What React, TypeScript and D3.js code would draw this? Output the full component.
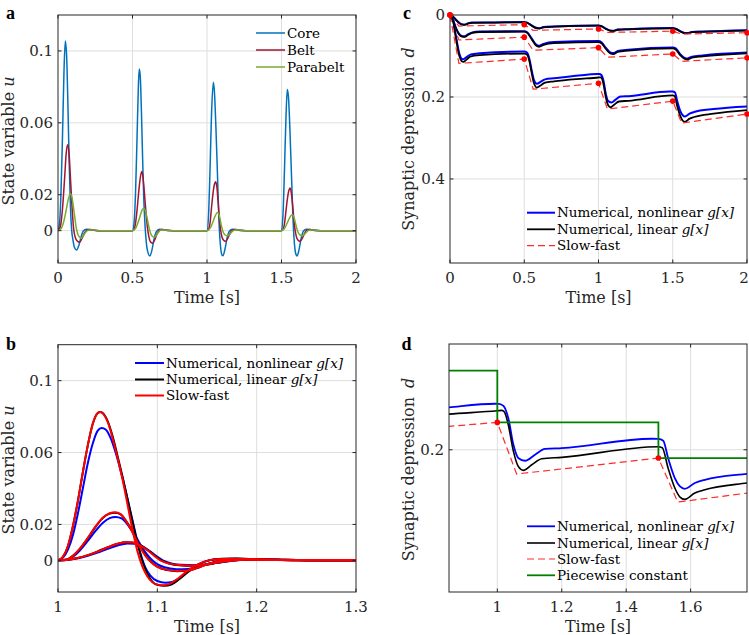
import React from 'react';
import * as d3 from 'd3';

type P = [number, number];

// ---------- Panel a: State variable u, 0..2 s ----------
const coreA: P[] = [
  [0,0],[0.01,0.004],[0.02,0.021],[0.03,0.052],[0.04,0.088],[0.049,0.1055],[0.058,0.097],[0.066,0.072],[0.075,0.038],[0.084,0.012],[0.092,0],[0.1,-0.005],[0.11,-0.0092],[0.125,-0.0108],[0.14,-0.0082],[0.155,-0.0035],[0.17,-0.0002],[0.19,0.0008],[0.22,0.0006],[0.26,0],
  [0.5,0],[0.51,0.004],[0.52,0.02],[0.53,0.05],[0.54,0.082],[0.5456,0.09],[0.552,0.086],[0.56,0.066],[0.568,0.04],[0.576,0.017],[0.584,0.003],[0.59,-0.004],[0.6,-0.011],[0.617,-0.0141],[0.63,-0.011],[0.645,-0.0045],[0.66,-0.0005],[0.68,0.0008],[0.71,0.0005],[0.75,0],
  [1.0,0],[1.01,0.008],[1.02,0.033],[1.03,0.064],[1.0425,0.0826],[1.05,0.077],[1.06,0.057],[1.07,0.032],[1.08,0.006],[1.09,-0.008],[1.1,-0.0134],[1.108,-0.0139],[1.12,-0.0105],[1.135,-0.004],[1.15,-0.0003],[1.17,0.0008],[1.2,0.0005],[1.24,0],
  [1.5,0],[1.51,0.009],[1.52,0.034],[1.53,0.063],[1.539,0.0785],[1.547,0.074],[1.557,0.055],[1.567,0.031],[1.577,0.007],[1.587,-0.0075],[1.597,-0.0132],[1.605,-0.0141],[1.617,-0.0108],[1.632,-0.0042],[1.647,-0.0003],[1.667,0.0008],[1.7,0.0005],[1.74,0],[2,0]
];
const beltA: P[] = [
  [0,0],[0.015,0.002],[0.03,0.012],[0.045,0.03],[0.055,0.043],[0.065,0.0478],[0.075,0.042],[0.085,0.027],[0.095,0.012],[0.105,0.001],[0.115,-0.0035],[0.13,-0.0058],[0.145,-0.0065],[0.16,-0.0045],[0.18,-0.001],[0.2,0.0005],[0.23,0.0004],[0.27,0],
  [0.5,0],[0.51,0.0006],[0.52,0.004],[0.53,0.011],[0.54,0.02],[0.55,0.028],[0.5616,0.0329],[0.57,0.03],[0.58,0.021],[0.59,0.0105],[0.6,0.002],[0.61,-0.0035],[0.62,-0.0062],[0.635,-0.007],[0.65,-0.005],[0.665,-0.0018],[0.68,0.0002],[0.7,0.0006],[0.73,0.0003],[0.77,0],
  [1.0,0],[1.01,0.0006],[1.02,0.004],[1.03,0.0125],[1.04,0.0205],[1.05,0.0258],[1.058,0.0272],[1.066,0.0245],[1.075,0.0155],[1.085,0.005],[1.095,-0.0015],[1.11,-0.0052],[1.125,-0.0059],[1.14,-0.0042],[1.155,-0.0015],[1.17,0.0002],[1.19,0.0006],[1.22,0.0003],[1.26,0],
  [1.5,0],[1.51,0.0006],[1.52,0.0038],[1.53,0.011],[1.54,0.018],[1.55,0.0225],[1.557,0.0237],[1.565,0.0215],[1.575,0.0138],[1.585,0.0045],[1.595,-0.0015],[1.61,-0.0052],[1.625,-0.0059],[1.64,-0.0042],[1.655,-0.0015],[1.67,0.0002],[1.69,0.0006],[1.72,0.0003],[1.76,0],[2,0]
];
const parabeltA: P[] = [
  [0,0],[0.02,0.001],[0.04,0.0055],[0.055,0.0115],[0.07,0.0178],[0.083,0.0205],[0.095,0.018],[0.11,0.009],[0.125,0.0005],[0.14,-0.0032],[0.155,-0.0042],[0.17,-0.0028],[0.19,-0.0005],[0.21,0.0004],[0.24,0.0004],[0.28,0],
  [0.5,0],[0.52,0.0012],[0.54,0.0052],[0.555,0.0092],[0.567,0.0118],[0.577,0.0125],[0.588,0.0108],[0.6,0.0062],[0.612,0.0013],[0.625,-0.0022],[0.644,-0.0037],[0.66,-0.0026],[0.675,-0.0008],[0.69,0.0003],[0.72,0.0004],[0.76,0],
  [1.0,0],[1.02,0.0013],[1.04,0.0049],[1.055,0.0082],[1.07,0.0101],[1.082,0.0086],[1.095,0.0035],[1.107,-0.0005],[1.12,-0.0023],[1.138,-0.0029],[1.155,-0.0018],[1.17,-0.0004],[1.19,0.0004],[1.22,0.0003],[1.26,0],
  [1.5,0],[1.52,0.0012],[1.54,0.0045],[1.555,0.0073],[1.572,0.0088],[1.584,0.0075],[1.597,0.003],[1.609,-0.0005],[1.622,-0.0022],[1.64,-0.0028],[1.657,-0.0018],[1.672,-0.0004],[1.69,0.0004],[1.72,0.0003],[1.76,0],[2,0]
];

// ---------- Panel b: zoom on third pulse, 1..1.3 s ----------
const bBigNonlin: P[] = [[1,0],[1.005,0.0015],[1.01,0.006],[1.015,0.014],[1.02,0.026],[1.025,0.04],[1.03,0.054],[1.035,0.065],[1.04,0.0722],[1.044,0.0737],[1.048,0.0728],[1.053,0.068],[1.058,0.06],[1.063,0.05],[1.068,0.039],[1.073,0.027],[1.078,0.015],[1.083,0.004],[1.088,-0.004],[1.093,-0.0085],[1.1,-0.0115],[1.108,-0.0124],[1.115,-0.012],[1.122,-0.0098],[1.132,-0.0055],[1.142,-0.002],[1.152,0],[1.165,0.0007],[1.18,0.0009],[1.2,0.0005],[1.23,0.0002],[1.27,0],[1.3,0]];
const bBigLin: P[] = [[1,0],[1.005,0.002],[1.01,0.008],[1.015,0.019],[1.02,0.033],[1.025,0.049],[1.03,0.064],[1.035,0.076],[1.04,0.082],[1.0425,0.0826],[1.045,0.082],[1.05,0.0775],[1.055,0.069],[1.06,0.058],[1.065,0.0465],[1.07,0.034],[1.075,0.0215],[1.08,0.0095],[1.085,-0.0005],[1.09,-0.0075],[1.095,-0.0118],[1.1,-0.0136],[1.107,-0.0141],[1.114,-0.0134],[1.122,-0.0105],[1.132,-0.006],[1.142,-0.0022],[1.152,0],[1.165,0.0009],[1.18,0.001],[1.2,0.0006],[1.23,0.0002],[1.27,0],[1.3,0]];
const bBigSF: P[] = [[1,0],[1.005,0.002],[1.01,0.008],[1.015,0.019],[1.02,0.033],[1.025,0.049],[1.03,0.064],[1.035,0.076],[1.04,0.082],[1.0425,0.0826],[1.045,0.0818],[1.05,0.077],[1.055,0.068],[1.06,0.057],[1.065,0.045],[1.07,0.031],[1.075,0.017],[1.08,0.005],[1.085,-0.0035],[1.09,-0.009],[1.095,-0.0122],[1.1,-0.0135],[1.106,-0.0138],[1.112,-0.0132],[1.12,-0.0105],[1.13,-0.006],[1.14,-0.0025],[1.15,-0.0003],[1.16,0.0006],[1.175,0.0009],[1.19,0.0007],[1.21,0.0003],[1.24,0.0001],[1.27,0],[1.3,0]];
const bMidNonlin: P[] = [[1,0],[1.008,0.0002],[1.015,0.002],[1.022,0.0055],[1.03,0.0108],[1.038,0.0165],[1.045,0.0208],[1.052,0.0235],[1.058,0.0242],[1.064,0.0233],[1.071,0.0192],[1.078,0.0135],[1.084,0.0078],[1.09,0.003],[1.096,-0.0005],[1.103,-0.003],[1.113,-0.0045],[1.125,-0.005],[1.137,-0.0043],[1.148,-0.0025],[1.16,-0.0008],[1.175,0.0004],[1.195,0.0006],[1.22,0.0003],[1.26,0],[1.3,0]];
const bMidLin: P[] = [[1,0],[1.008,0.0003],[1.015,0.0025],[1.022,0.0064],[1.03,0.0123],[1.038,0.0188],[1.045,0.0235],[1.052,0.026],[1.0575,0.0265],[1.063,0.0256],[1.07,0.0207],[1.076,0.0149],[1.082,0.0084],[1.088,0.003],[1.094,-0.0009],[1.1,-0.0035],[1.11,-0.0054],[1.12,-0.006],[1.13,-0.0058],[1.14,-0.0043],[1.15,-0.0022],[1.16,-0.0006],[1.175,0.0005],[1.195,0.0006],[1.22,0.0003],[1.26,0],[1.3,0]];
const bMidSF: P[] = [[1,0],[1.008,0.0003],[1.015,0.0025],[1.022,0.0065],[1.03,0.0125],[1.038,0.019],[1.045,0.0237],[1.052,0.0262],[1.0575,0.0268],[1.063,0.0257],[1.07,0.0205],[1.076,0.0145],[1.082,0.0078],[1.088,0.0025],[1.094,-0.0012],[1.1,-0.0036],[1.11,-0.0053],[1.12,-0.0059],[1.13,-0.0057],[1.14,-0.0042],[1.15,-0.0022],[1.16,-0.0006],[1.175,0.0005],[1.195,0.0006],[1.22,0.0003],[1.26,0],[1.3,0]];
const bSmallNonlin: P[] = [[1,0],[1.01,0.0003],[1.02,0.0011],[1.03,0.0025],[1.04,0.0043],[1.05,0.0064],[1.06,0.0083],[1.07,0.0094],[1.077,0.0093],[1.085,0.0078],[1.092,0.0053],[1.099,0.0024],[1.106,-0.0002],[1.114,-0.0017],[1.124,-0.0025],[1.137,-0.0027],[1.15,-0.0022],[1.162,-0.0012],[1.174,-0.0003],[1.19,0.0004],[1.21,0.0004],[1.24,0.0002],[1.27,0],[1.3,0]];
const bSmallLin: P[] = [[1,0],[1.01,0.0004],[1.02,0.0013],[1.03,0.0029],[1.04,0.005],[1.05,0.0073],[1.06,0.0092],[1.068,0.0101],[1.075,0.01],[1.082,0.0087],[1.09,0.0059],[1.097,0.0028],[1.104,0],[1.112,-0.0017],[1.122,-0.0027],[1.135,-0.003],[1.148,-0.0025],[1.16,-0.0014],[1.172,-0.0004],[1.19,0.0004],[1.21,0.0004],[1.24,0.0002],[1.27,0],[1.3,0]];
const bSmallSF: P[] = [[1,0],[1.01,0.0004],[1.02,0.0013],[1.03,0.0029],[1.04,0.0049],[1.05,0.0072],[1.06,0.0092],[1.068,0.0101],[1.075,0.0099],[1.082,0.0085],[1.09,0.0057],[1.097,0.0025],[1.104,-0.0003],[1.112,-0.0018],[1.122,-0.0026],[1.135,-0.0029],[1.148,-0.0024],[1.16,-0.0013],[1.172,-0.0003],[1.19,0.0004],[1.21,0.0004],[1.24,0.0002],[1.27,0],[1.3,0]];

// ---------- Panels c/d: synaptic depression d ----------
const dTopNonlin: P[] = [[0,0],[0.02,0.004],[0.04,0.0115],[0.06,0.0185],[0.08,0.0228],[0.1,0.0233],[0.12,0.0205],[0.15,0.0185],[0.3,0.018],[0.5,0.0172],[0.52,0.0185],[0.55,0.0253],[0.58,0.0312],[0.6,0.0322],[0.63,0.0295],[0.7,0.028],[1.0,0.0255],[1.02,0.027],[1.05,0.0333],[1.08,0.0378],[1.1,0.0383],[1.13,0.0355],[1.2,0.0345],[1.5,0.032],[1.52,0.0334],[1.55,0.0393],[1.58,0.0437],[1.6,0.044],[1.63,0.0413],[1.7,0.0403],[2.0,0.0373]];
const dTopLin: P[] = [[0,0],[0.02,0.0045],[0.04,0.012],[0.06,0.019],[0.08,0.0235],[0.1,0.024],[0.12,0.021],[0.15,0.019],[0.3,0.0185],[0.5,0.0178],[0.52,0.019],[0.55,0.026],[0.58,0.032],[0.6,0.033],[0.63,0.03],[0.7,0.0285],[1.0,0.026],[1.02,0.0275],[1.05,0.034],[1.08,0.0385],[1.1,0.039],[1.13,0.036],[1.2,0.035],[1.5,0.0325],[1.52,0.034],[1.55,0.04],[1.58,0.0445],[1.6,0.0447],[1.63,0.042],[1.7,0.041],[2.0,0.038]];
const dTopSF: P[] = [[0,0],[0.06,0.027],[0.5,0.0235],[0.56,0.0375],[1.0,0.034],[1.06,0.0425],[1.5,0.0395],[1.56,0.0465],[2.0,0.0432]];
const dMidNonlin: P[] = [[0,0],[0.02,0.0115],[0.04,0.0315],[0.06,0.0455],[0.08,0.0515],[0.1,0.052],[0.12,0.0475],[0.15,0.0425],[0.2,0.0405],[0.5,0.0395],[0.52,0.0422],[0.55,0.057],[0.58,0.0722],[0.6,0.075],[0.63,0.0705],[0.7,0.066],[1.0,0.0635],[1.02,0.0665],[1.05,0.0805],[1.08,0.0915],[1.1,0.093],[1.13,0.0875],[1.2,0.0845],[1.5,0.079],[1.52,0.0815],[1.55,0.0955],[1.58,0.1045],[1.6,0.106],[1.63,0.1015],[1.7,0.0985],[2.0,0.0915]];
const dMidLin: P[] = [[0,0],[0.02,0.012],[0.04,0.033],[0.06,0.047],[0.08,0.053],[0.1,0.0535],[0.12,0.049],[0.15,0.0435],[0.2,0.0415],[0.5,0.0405],[0.52,0.0435],[0.55,0.059],[0.58,0.0745],[0.6,0.0775],[0.63,0.073],[0.7,0.0685],[1.0,0.066],[1.02,0.069],[1.05,0.083],[1.08,0.094],[1.1,0.0955],[1.13,0.09],[1.2,0.087],[1.5,0.0815],[1.52,0.084],[1.55,0.098],[1.58,0.107],[1.6,0.1085],[1.63,0.104],[1.7,0.101],[2.0,0.0935]];
const dMidSF: P[] = [[0,0],[0.06,0.061],[0.5,0.054],[0.56,0.086],[1.0,0.0797],[1.06,0.103],[1.5,0.095],[1.56,0.113],[2.0,0.1045]];
const dLowNonlin: P[] = [[0,0],[0.02,0.012],[0.04,0.052],[0.06,0.09],[0.08,0.107],[0.09,0.108],[0.11,0.103],[0.14,0.096],[0.2,0.0935],[0.5,0.089],[0.52,0.092],[0.535,0.108],[0.55,0.135],[0.565,0.158],[0.585,0.168],[0.61,0.163],[0.64,0.157],[0.7,0.1545],[0.85,0.1483],[0.993,0.1439],[1.005,0.144],[1.019,0.1465],[1.034,0.1613],[1.05,0.194],[1.065,0.21],[1.086,0.2134],[1.117,0.206],[1.148,0.199],[1.2,0.198],[1.479,0.1866],[1.5,0.1868],[1.515,0.189],[1.53,0.21],[1.551,0.2345],[1.567,0.2447],[1.582,0.2476],[1.613,0.2406],[1.644,0.2366],[1.775,0.2293],[2.0,0.223]];
const dLowLin: P[] = [[0,0],[0.02,0.013],[0.04,0.056],[0.06,0.096],[0.08,0.113],[0.09,0.1145],[0.11,0.109],[0.14,0.101],[0.2,0.098],[0.5,0.094],[0.52,0.097],[0.535,0.113],[0.55,0.141],[0.565,0.166],[0.585,0.177],[0.61,0.172],[0.64,0.165],[0.7,0.162],[0.85,0.1565],[1.0,0.1525],[1.014,0.152],[1.022,0.154],[1.034,0.1695],[1.05,0.202],[1.065,0.2203],[1.081,0.2251],[1.107,0.2183],[1.138,0.211],[1.2,0.2093],[1.499,0.1963],[1.512,0.1975],[1.53,0.2223],[1.551,0.2467],[1.567,0.2577],[1.582,0.2605],[1.613,0.2528],[1.644,0.2488],[1.775,0.2406],[2.0,0.232]];
const dLowSF: P[] = [[0,0],[0.06,0.118],[0.5,0.1075],[0.56,0.181],[1.0,0.1666],[1.06,0.2296],[1.5,0.2101],[1.56,0.2638],[2.0,0.2415]];
const piecewiseD: P[] = [[0.5,0.1035],[1.0,0.1666],[1.5,0.2101],[2.0,0.2101]];

// ---------- ticks ----------
const aXTicks = [0, 0.5, 1, 1.5, 2];
const aXTickLabels = ['0', '0.5', '1', '1.5', '2'];
const uTicks = [0, 0.02, 0.06, 0.1];
const uTickLabels = ['0', '0.02', '0.06', '0.1'];
const bXTicks = [1, 1.1, 1.2, 1.3];
const bXTickLabels = ['1', '1.1', '1.2', '1.3'];
const cYTicks = [0, 0.2, 0.4];
const cYTickLabels = ['0', '0.2', '0.4'];
const dXTicks = [1, 1.2, 1.4, 1.6];
const dXTickLabels = ['1', '1.2', '1.4', '1.6'];
const dYTicks = [0.2];
const dYTickLabels = ['0.2'];

const FONT = "'DejaVu Serif', serif";
const AX = '#262626';
const GRID = '#dedede';
const W = 749;

type Cfg = {
  id: string; x0: number; x1: number; y0: number; y1: number;
  xd: [number, number]; yd: [number, number]; yRev?: boolean;
  xt: number[]; xtl: string[]; yt: number[]; ytl: string[];
};

function mk(cfg: Cfg) {
  const x = d3.scaleLinear().domain(cfg.xd).range([cfg.x0, cfg.x1]);
  const y = d3.scaleLinear().domain(cfg.yd).range(cfg.yRev ? [cfg.y0, cfg.y1] : [cfg.y1, cfg.y0]);
  const line = (curve: any = d3.curveMonotoneX) =>
    d3.line<P>().x(d => x(d[0])).y(d => y(d[1])).curve(curve);
  return { x, y, line };
}

function Grid({ cfg }: { cfg: Cfg }) {
  const { x, y } = mk(cfg);
  return (
    <g stroke={GRID} strokeWidth={1}>
      {cfg.xt.map((t, i) => {
        const px = x(t);
        if (px <= cfg.x0 + 1 || px >= cfg.x1 - 1) return null;
        return <line key={'gx' + i} x1={px} x2={px} y1={cfg.y0} y2={cfg.y1} />;
      })}
      {cfg.yt.map((t, i) => {
        const py = y(t);
        if (py <= cfg.y0 + 1 || py >= cfg.y1 - 1) return null;
        return <line key={'gy' + i} y1={py} y2={py} x1={cfg.x0} x2={cfg.x1} />;
      })}
    </g>
  );
}

function Frame({ cfg }: { cfg: Cfg }) {
  const { x, y } = mk(cfg);
  const tl = 3.5;
  return (
    <g>
      <rect x={cfg.x0} y={cfg.y0} width={cfg.x1 - cfg.x0} height={cfg.y1 - cfg.y0} fill="none" stroke={AX} strokeWidth={1} />
      {cfg.xt.map((t, i) => {
        const px = x(t);
        const lx = Math.min(px, W - 5);
        return (
          <g key={'xt' + i}>
            <line x1={px} x2={px} y1={cfg.y1} y2={cfg.y1 - tl} stroke={AX} />
            <line x1={px} x2={px} y1={cfg.y0} y2={cfg.y0 + tl} stroke={AX} />
            <text x={lx} y={cfg.y1 + 20} textAnchor="middle" fontSize={15} fill={AX} fontFamily={FONT}>{cfg.xtl[i]}</text>
          </g>
        );
      })}
      {cfg.yt.map((t, i) => {
        const py = y(t);
        return (
          <g key={'yt' + i}>
            <line x1={cfg.x0} x2={cfg.x0 + tl} y1={py} y2={py} stroke={AX} />
            <line x1={cfg.x1} x2={cfg.x1 - tl} y1={py} y2={py} stroke={AX} />
            <text x={cfg.x0 - 5} y={py} dy="0.35em" textAnchor="end" fontSize={15} fill={AX} fontFamily={FONT}>{cfg.ytl[i]}</text>
          </g>
        );
      })}
    </g>
  );
}

type LegItem = { label: React.ReactNode; color: string; dash?: string; w: number };
function Legend({ x0, x1, tx, ys, items }: { x0: number; x1: number; tx: number; ys: number[]; items: LegItem[] }) {
  return (
    <g>
      {items.map((it, i) => (
        <g key={i}>
          <line x1={x0} x2={x1} y1={ys[i]} y2={ys[i]} stroke={it.color} strokeWidth={it.w} strokeDasharray={it.dash} />
          <text x={tx} y={ys[i]} dy="0.35em" fontSize={13.5} fill="#000" fontFamily={FONT}>{it.label}</text>
        </g>
      ))}
    </g>
  );
}

const gx = <tspan fontStyle="italic">g[x]</tspan>;

const cfgA: Cfg = { id: 'a', x0: 58, x1: 356, y0: 15, y1: 263, xd: [0, 2], yd: [-0.018, 0.12], xt: aXTicks, xtl: aXTickLabels, yt: uTicks, ytl: uTickLabels };
const cfgB: Cfg = { id: 'b', x0: 58, x1: 356, y0: 344.7, y1: 592, xd: [1, 1.3], yd: [-0.0176, 0.12], xt: bXTicks, xtl: bXTickLabels, yt: uTicks, ytl: uTickLabels };
const cfgC: Cfg = { id: 'c', x0: 450, x1: 747, y0: 15, y1: 263, xd: [0, 2], yd: [0, 0.605], yRev: true, xt: aXTicks, xtl: aXTickLabels, yt: cYTicks, ytl: cYTickLabels };
const cfgD: Cfg = { id: 'd', x0: 449, x1: 747, y0: 344, y1: 592, xd: [0.85, 1.775], yd: [0.071, 0.3735], yRev: true, xt: dXTicks, xtl: dXTickLabels, yt: dYTicks, ytl: dYTickLabels };

const isDot = (p: P) => Math.abs(p[0] * 2 - Math.round(p[0] * 2)) < 1e-6;

export default function App() {
  React.useEffect(() => { document.body.style.margin = '0'; }, []);
  const A = mk(cfgA), B = mk(cfgB), C = mk(cfgC), D = mk(cfgD);
  const lA = A.line(), lB = B.line(), lC = C.line(), lCl = C.line(d3.curveLinear), lD = D.line(), lDl = D.line(d3.curveLinear), lDs = D.line(d3.curveStepAfter);
  const BLUE = '#0000ff', BLACK = '#000000', RED = '#ff0000', SFRED = '#ff2a2a', GREEN = '#008000';
  const cGroups = [[dTopNonlin, dTopLin, dTopSF], [dMidNonlin, dMidLin, dMidSF], [dLowNonlin, dLowLin, dLowSF]];
  const clip = (c: Cfg) => <clipPath id={'clip' + c.id}><rect x={c.x0} y={c.y0} width={c.x1 - c.x0} height={c.y1 - c.y0} /></clipPath>;
  return (
    <svg width={749} height={635} style={{ position: 'absolute', left: 0, top: 0, background: '#fff' }} fontFamily={FONT}>
      <defs>{clip(cfgA)}{clip(cfgB)}{clip(cfgC)}{clip(cfgD)}</defs>
      <rect x={0} y={0} width={749} height={635} fill="#fff" />

      {/* Panel a */}
      <Grid cfg={cfgA} />
      <g clipPath="url(#clipa)" fill="none" strokeWidth={1.5}>
        <path d={lA(coreA) || ''} stroke="#0072bd" />
        <path d={lA(beltA) || ''} stroke="#a2142f" />
        <path d={lA(parabeltA) || ''} stroke="#77ac30" />
      </g>
      <Frame cfg={cfgA} />
      <Legend x0={256} x1={285} tx={287} ys={[33, 50, 67]} items={[
        { label: 'Core', color: '#0072bd', w: 1.5 },
        { label: 'Belt', color: '#a2142f', w: 1.5 },
        { label: 'Parabelt', color: '#77ac30', w: 1.5 },
      ]} />
      <text x={207} y={303} textAnchor="middle" fontSize={16} fill={AX}>Time [s]</text>
      <text transform="translate(8,141) rotate(-90)" textAnchor="middle" dy="0.35em" fontSize={16} fill={AX}>State variable <tspan fontStyle="italic">u</tspan></text>
      <text x={6} y={18.5} fontSize={18} fontWeight="bold" fontFamily="'Liberation Serif', serif">a</text>

      {/* Panel b */}
      <Grid cfg={cfgB} />
      <g clipPath="url(#clipb)" fill="none" strokeWidth={2}>
        {[bBigNonlin, bMidNonlin, bSmallNonlin].map((s, i) => <path key={'bn' + i} d={lB(s) || ''} stroke={BLUE} />)}
        {[bBigLin, bMidLin, bSmallLin].map((s, i) => <path key={'bl' + i} d={lB(s) || ''} stroke={BLACK} />)}
        {[bBigSF, bMidSF, bSmallSF].map((s, i) => <path key={'bs' + i} d={lB(s) || ''} stroke={RED} />)}
      </g>
      <Frame cfg={cfgB} />
      <Legend x0={135} x1={164} tx={166} ys={[363, 379.5, 395.5]} items={[
        { label: <>Numerical, nonlinear {gx}</>, color: BLUE, w: 2 },
        { label: <>Numerical, linear {gx}</>, color: BLACK, w: 2 },
        { label: 'Slow-fast', color: RED, w: 2 },
      ]} />
      <text x={207} y={632} textAnchor="middle" fontSize={16} fill={AX}>Time [s]</text>
      <text transform="translate(8,470) rotate(-90)" textAnchor="middle" dy="0.35em" fontSize={16} fill={AX}>State variable <tspan fontStyle="italic">u</tspan></text>
      <text x={6} y={350} fontSize={18} fontWeight="bold" fontFamily="'Liberation Serif', serif">b</text>

      {/* Panel c */}
      <Grid cfg={cfgC} />
      <g clipPath="url(#clipc)" fill="none">
        {cGroups.map((g, i) => (
          <g key={'cg' + i}>
            <path d={lC(g[0]) || ''} stroke={BLUE} strokeWidth={2} />
            <path d={lC(g[1]) || ''} stroke={BLACK} strokeWidth={1.8} />
            <path d={lCl(g[2]) || ''} stroke={SFRED} strokeWidth={1.2} strokeDasharray="7,4" />
          </g>
        ))}
      </g>
      <Frame cfg={cfgC} />
      <g fill={RED}>
        {cGroups.map((g, i) => g[2].filter(isDot).map((p, j) => <circle key={'cd' + i + '-' + j} cx={C.x(p[0])} cy={C.y(p[1])} r={2.8} />))}
      </g>
      <Legend x0={527} x1={555} tx={557} ys={[212.7, 229.3, 245.7]} items={[
        { label: <>Numerical, nonlinear {gx}</>, color: BLUE, w: 2 },
        { label: <>Numerical, linear {gx}</>, color: BLACK, w: 1.8 },
        { label: 'Slow-fast', color: SFRED, w: 1.2, dash: '7,4' },
      ]} />
      <text x={598.5} y={303} textAnchor="middle" fontSize={16} fill={AX}>Time [s]</text>
      <text transform="translate(408,139) rotate(-90)" textAnchor="middle" dy="0.35em" fontSize={16} fill={AX}>Synaptic depression<tspan dx="9" fontStyle="italic">d</tspan></text>
      <text x={403} y={18.5} fontSize={18} fontWeight="bold" fontFamily="'Liberation Serif', serif">c</text>

      {/* Panel d */}
      <Grid cfg={cfgD} />
      <g clipPath="url(#clipd)" fill="none">
        <path d={lD(dLowNonlin) || ''} stroke={BLUE} strokeWidth={1.8} />
        <path d={lD(dLowLin) || ''} stroke={BLACK} strokeWidth={1.6} />
        <path d={lDl(dLowSF) || ''} stroke={SFRED} strokeWidth={1.2} strokeDasharray="7,4" />
        <path d={lDs(piecewiseD) || ''} stroke={GREEN} strokeWidth={1.8} />
      </g>
      <g fill={RED}>
        {dLowSF.filter(isDot).filter(p => p[0] >= cfgD.xd[0] && p[0] <= cfgD.xd[1]).map((p, j) => <circle key={'dd' + j} cx={D.x(p[0])} cy={D.y(p[1])} r={2.8} />)}
      </g>
      <Frame cfg={cfgD} />
      <Legend x0={527} x1={555} tx={557} ys={[526.3, 543, 559, 575.3]} items={[
        { label: <>Numerical, nonlinear {gx}</>, color: BLUE, w: 1.8 },
        { label: <>Numerical, linear {gx}</>, color: BLACK, w: 1.6 },
        { label: 'Slow-fast', color: SFRED, w: 1.2, dash: '7,4' },
        { label: 'Piecewise constant', color: GREEN, w: 1.8 },
      ]} />
      <text x={598} y={632} textAnchor="middle" fontSize={16} fill={AX}>Time [s]</text>
      <text transform="translate(408,469.5) rotate(-90)" textAnchor="middle" dy="0.35em" fontSize={16} fill={AX}>Synaptic depression<tspan dx="9" fontStyle="italic">d</tspan></text>
      <text x={401.5} y={350} fontSize={18} fontWeight="bold" fontFamily="'Liberation Serif', serif">d</text>
    </svg>
  );
}
